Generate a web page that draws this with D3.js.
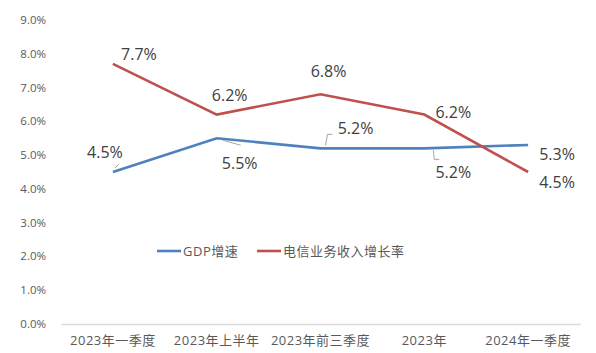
<!DOCTYPE html>
<html>
<head>
<meta charset="utf-8">
<script src="https://cdn.jsdelivr.net/npm/d3@7"></script>
<style>
  body { margin: 0; background: #fff; }
  text { font-family: "Open Sans", "Noto Sans CJK SC", sans-serif; }
</style>
</head>
<body>
<div id="grafico"></div>
<script>
const categories = ['2023年一季度', '2023年上半年', '2023年前三季度', '2023年', '2024年一季度'];
const gdpValues = [4.5, 5.5, 5.2, 5.2, 5.3];
const telecomValues = [7.7, 6.2, 6.8, 6.2, 4.5];
const yTicks = [0, 1, 2, 3, 4, 5, 6, 7, 8, 9];
const seriesNames = ['GDP增速', '电信业务收入增长率'];

const width = 596;
const height = 353;

const svg = d3.select('#grafico')
              .append('svg')
              .attr('width', width)
              .attr('height', height);

const xScale = d3.scaleBand()
                 .domain(categories)
                 .range([61, 580]);

const yScale = d3.scaleLinear()
                 .domain([0, 9])
                 .range([324, 20]);

const cx = d => xScale(d) + xScale.bandwidth() / 2;

// y tick labels
svg.append('g')
   .selectAll('text')
   .data(yTicks)
   .enter()
   .append('text')
   .attr('x', 46)
   .attr('y', d => yScale(d) + 4)
   .attr('text-anchor', 'end')
   .attr('font-size', '11.5px')
   .attr('fill', '#595959')
   .text(d => d.toFixed(1) + '%');

// x axis
const xAxis = d3.axisBottom(xScale).tickSize(0).tickPadding(12);
const gx = svg.append('g')
              .attr('transform', 'translate(0, 324)')
              .call(xAxis);
gx.select('.domain').attr('stroke', '#d9d9d9').attr('stroke-width', 1.5);
gx.selectAll('text')
  .attr('font-size', '13px')
  .attr('letter-spacing', '0.5px')
  .attr('fill', '#595959')
  .attr('font-family', '"Open Sans", "Noto Sans CJK SC", sans-serif');

const line = d3.line()
               .x((d, i) => cx(categories[i]))
               .y(d => yScale(d));

const colors = ['#4f81bd', '#c0504d'];

svg.append('path')
   .datum(gdpValues)
   .attr('d', line)
   .attr('fill', 'none')
   .attr('stroke', colors[0])
   .attr('stroke-width', 2.6);

svg.append('path')
   .datum(telecomValues)
   .attr('d', line)
   .attr('fill', 'none')
   .attr('stroke', colors[1])
   .attr('stroke-width', 2.6);

// data labels: offsets from each point
const gdpOffsets = [[-8, -20], [23, 25], [35, -20], [29, 24], [29, 9]];
const telOffsets = [[26, -10], [13, -20], [8, -23], [29, -3], [29, 10]];

const labelFont = '16px';
const labelColor = '#404040';

function drawLabels(values, offsets) {
    svg.append('g')
       .selectAll('text')
       .data(values)
       .enter()
       .append('text')
       .attr('x', (d, i) => cx(categories[i]) + offsets[i][0])
       .attr('y', (d, i) => yScale(d) + offsets[i][1] + 6)
       .attr('text-anchor', 'middle')
       .attr('font-size', labelFont)
       .attr('fill', labelColor)
       .text(d => d.toFixed(1) + '%');
}
drawLabels(gdpValues, gdpOffsets);
drawLabels(telecomValues, telOffsets);

// leader lines for GDP labels
const leaders = [
    [[2, -4], [6, -8]],
    [[6, 2], [24, 7]],
    [[5, -3], [7, -14], [12, -14]],
    [[9, 2], [10, 11], [15, 11]]
];
const leaderIdx = [0, 1, 2, 3];
leaderIdx.forEach((k, j) => {
    const px = cx(categories[k]);
    const py = yScale(gdpValues[k]);
    svg.append('path')
       .attr('d', d3.line()(leaders[j].map(p => [px + p[0], py + p[1]])))
       .attr('fill', 'none')
       .attr('stroke', '#a6a6a6')
       .attr('stroke-width', 1);
});

// legend
const legend = svg.append('g');
const legendX = [157, 257];
seriesNames.forEach((name, i) => {
    legend.append('line')
          .attr('x1', legendX[i])
          .attr('x2', legendX[i] + 24)
          .attr('y1', 251)
          .attr('y2', 251)
          .attr('stroke', colors[i])
          .attr('stroke-width', 2.6);
    legend.append('text')
          .attr('x', legendX[i] + 26)
          .attr('y', 255.5)
          .attr('font-size', '13px')
          .attr('letter-spacing', '0.5px')
          .attr('fill', '#595959')
          .text(name);
});
</script>
</body>
</html>
